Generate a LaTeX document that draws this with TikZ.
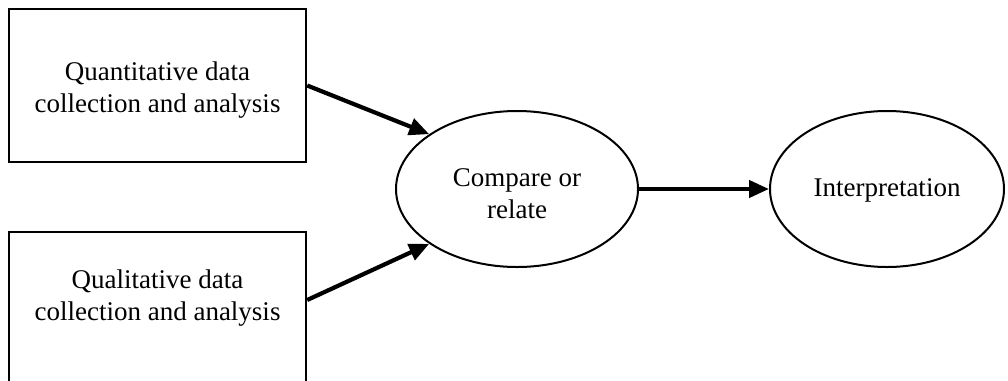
\documentclass[tikz,border=0pt]{standalone}
\usepackage{fontspec}
\setmainfont{Liberation Serif}
\usetikzlibrary{shapes.geometric,arrows.meta}
\begin{document}
\begin{tikzpicture}[x=1pt,y=-1pt,
  box/.style={draw,line width=2.4pt,minimum width=297pt,inner sep=0pt},
  oval/.style={draw,ellipse,line width=2pt,inner sep=0pt},
  txt/.style={align=center,font=\fontsize{27}{32}\selectfont},
  arr/.style={line width=4.2pt,-{Triangle[length=20pt,width=17pt]}}]
\useasboundingbox (0,0) rectangle (1008,380);
\clip (0,0) rectangle (1008,380);
\node[box,minimum height=153pt] (quant) at (157.5,85.5) {};
\node[txt] (quantt) at (157.5,90) {Quantitative data\\collection and analysis};
\node[box,minimum height=170pt] (qual) at (157.5,317) {};
\node[txt] (qualt) at (157.5,298) {Qualitative data\\collection and analysis};
\node[oval,minimum width=242pt,minimum height=156pt] (cmp) at (517,189) {};
\node[txt] (cmpt) at (517,194) {Compare or\\relate};
\node[oval,minimum width=234pt,minimum height=156pt] (int) at (887,189) {};
\node[txt] (intt) at (887,190) {Interpretation};
\draw[arr] (quant.east) -- (cmp.148);
\draw[arr] (qual.east |- 0,300) -- (cmp.212);
\draw[arr] (cmp.east) -- (int.west);
\end{tikzpicture}
\end{document}
